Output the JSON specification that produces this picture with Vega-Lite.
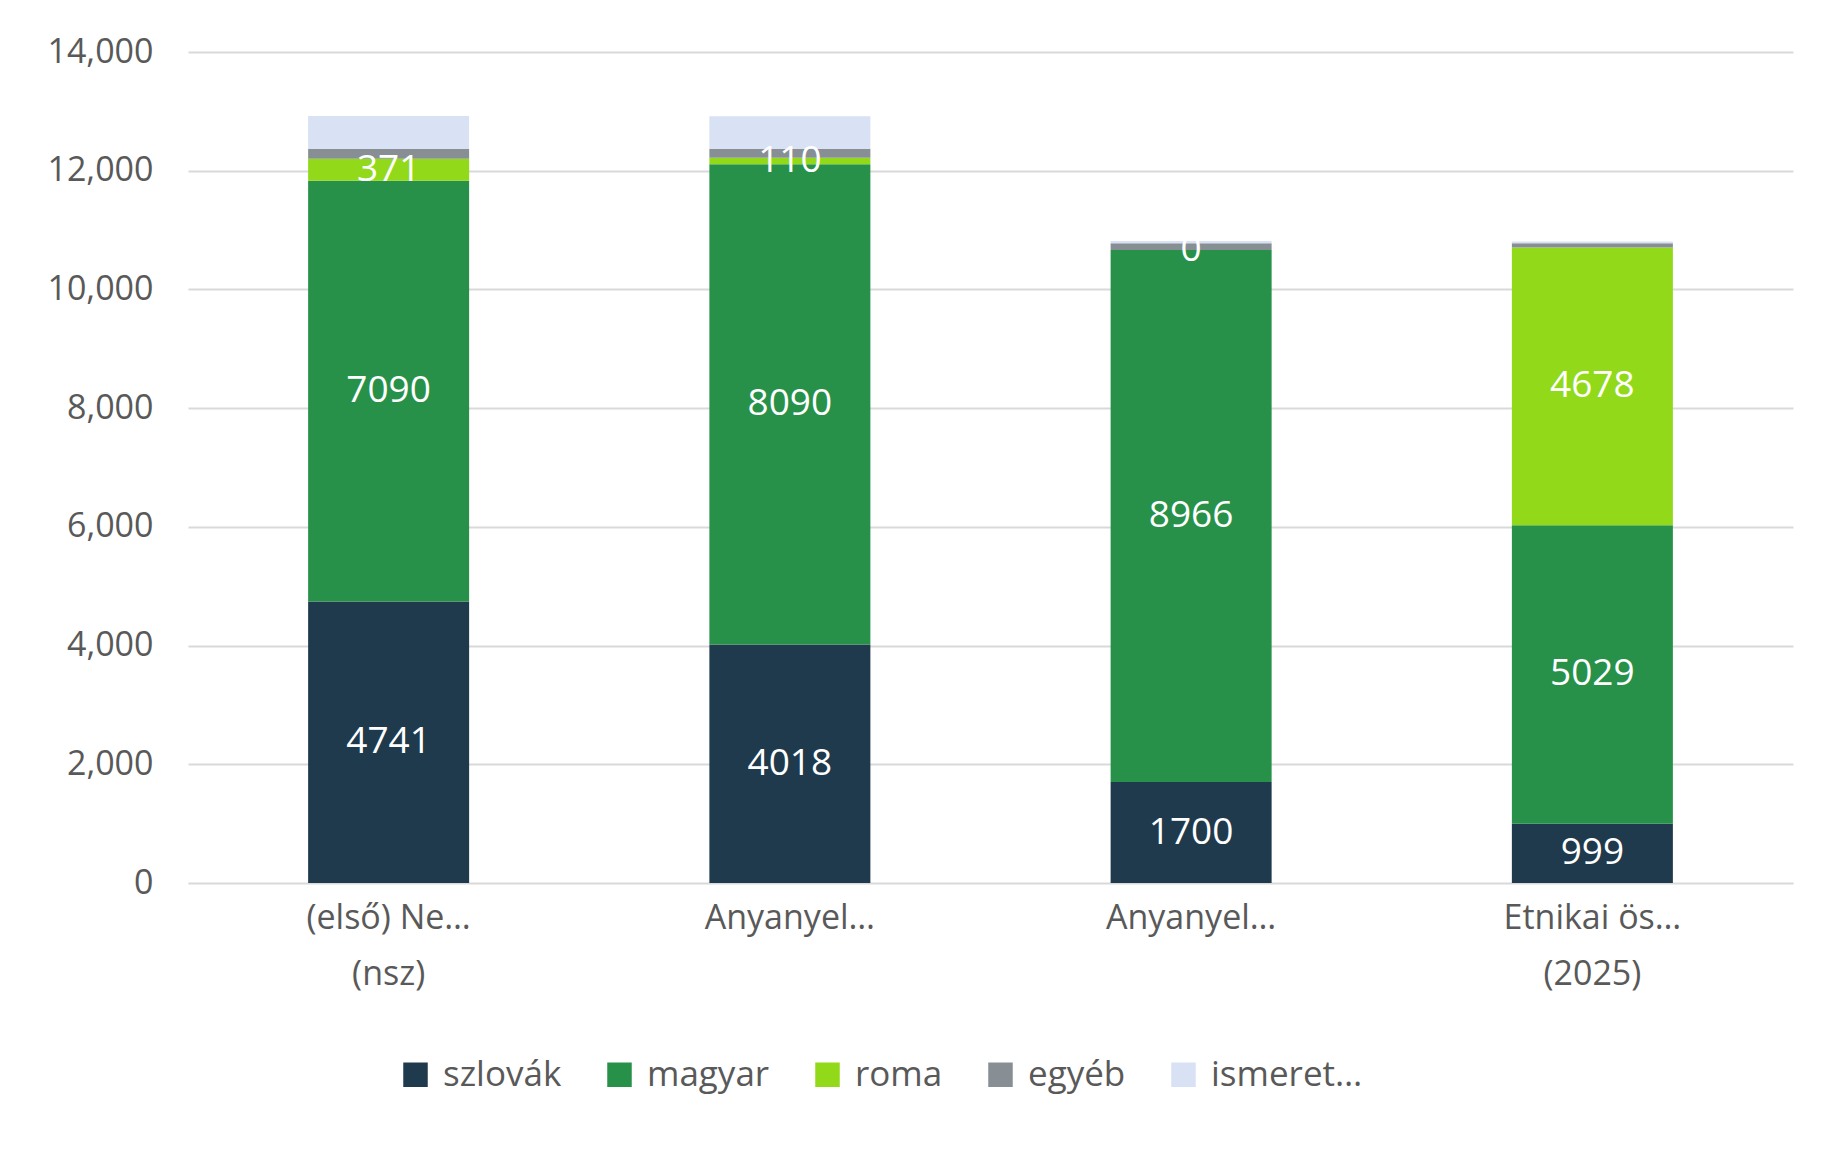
{
  "$schema": "https://vega.github.io/schema/vega-lite/v6.json",
  "autosize": "none",
  "width": 1605,
  "height": 831,
  "padding": {"left": 188, "top": 52, "right": 52, "bottom": 283},
  "background": "white",
  "config": {"font": "Open Sans", "view": {"stroke": null}},
  "data": {"values": [
    {"cat": "(első) Nemzetiség (nsz)", "grp": "szlovák", "o": 1, "v": 4741},
    {"cat": "(első) Nemzetiség (nsz)", "grp": "magyar", "o": 2, "v": 7090},
    {"cat": "(első) Nemzetiség (nsz)", "grp": "roma", "o": 3, "v": 371},
    {"cat": "(első) Nemzetiség (nsz)", "grp": "egyéb", "o": 4, "v": 170},
    {"cat": "(első) Nemzetiség (nsz)", "grp": "ismeretlen", "o": 5, "v": 550},
    {"cat": "Anyanyelv (nsz)", "grp": "szlovák", "o": 1, "v": 4018},
    {"cat": "Anyanyelv (nsz)", "grp": "magyar", "o": 2, "v": 8090},
    {"cat": "Anyanyelv (nsz)", "grp": "roma", "o": 3, "v": 110},
    {"cat": "Anyanyelv (nsz)", "grp": "egyéb", "o": 4, "v": 150},
    {"cat": "Anyanyelv (nsz)", "grp": "ismeretlen", "o": 5, "v": 550},
    {"cat": "Anyanyelv (2025)", "grp": "szlovák", "o": 1, "v": 1700},
    {"cat": "Anyanyelv (2025)", "grp": "magyar", "o": 2, "v": 8966},
    {"cat": "Anyanyelv (2025)", "grp": "roma", "o": 3, "v": 0},
    {"cat": "Anyanyelv (2025)", "grp": "egyéb", "o": 4, "v": 110},
    {"cat": "Anyanyelv (2025)", "grp": "ismeretlen", "o": 5, "v": 40},
    {"cat": "Etnikai összetétel (2025)", "grp": "szlovák", "o": 1, "v": 999},
    {"cat": "Etnikai összetétel (2025)", "grp": "magyar", "o": 2, "v": 5029},
    {"cat": "Etnikai összetétel (2025)", "grp": "roma", "o": 3, "v": 4678},
    {"cat": "Etnikai összetétel (2025)", "grp": "egyéb", "o": 4, "v": 70},
    {"cat": "Etnikai összetétel (2025)", "grp": "ismeretlen", "o": 5, "v": 30}
  ]},
  "transform": [
    {"stack": "v", "groupby": ["cat"], "sort": [{"field": "o"}], "as": ["y0", "y1"]},
    {"calculate": "(datum.y0 + datum.y1) / 2", "as": "mid"}
  ],
  "encoding": {
    "x": {"field": "cat", "type": "nominal", "sort": null, "title": null,
      "axis": {"labelAngle": 0, "labelFontSize": 34, "labelColor": "#595959", "domainColor": "#d9d9d9", "ticks": false, "labelPadding": 18, "labelLineHeight": 56,
        "labelExpr": "datum.label == '(első) Nemzetiség (nsz)' ? ['(első) Nemzetiség', '(nsz)'] : datum.label == 'Etnikai összetétel (2025)' ? ['Etnikai összetétel', '(2025)'] : datum.label"}}
  },
  "layer": [
    {
      "mark": {"type": "bar", "width": 161},
      "encoding": {
        "y": {"field": "y0", "type": "quantitative", "scale": {"domain": [0, 14000]}, "title": null,
          "axis": {"values": [0, 2000, 4000, 6000, 8000, 10000, 12000, 14000], "labelFontSize": 34, "labelColor": "#595959", "gridColor": "#d9d9d9", "gridWidth": 2, "domain": false, "ticks": false, "labelPadding": 35}},
        "y2": {"field": "y1"},
        "color": {"field": "grp", "type": "nominal",
          "scale": {"domain": ["szlovák", "magyar", "roma", "egyéb", "ismeretlen"], "range": ["#1f3a4d", "#27914a", "#92d91a", "#878f94", "#d9e1f5"]},
          "legend": {"title": null, "orient": "none", "direction": "horizontal", "legendX": 210, "legendY": 1005, "labelFontSize": 35, "labelColor": "#595959", "symbolType": "square", "symbolSize": 600, "symbolStrokeWidth": 0, "columnPadding": 40, "labelOffset": 10}}
      }
    },
    {
      "transform": [{"filter": "datum.o <= 3"}],
      "mark": {"type": "text", "color": "white", "fontSize": 37, "baseline": "middle"},
      "encoding": {
        "y": {"field": "mid", "type": "quantitative"},
        "text": {"field": "v", "type": "quantitative"}
      }
    }
  ]
}
